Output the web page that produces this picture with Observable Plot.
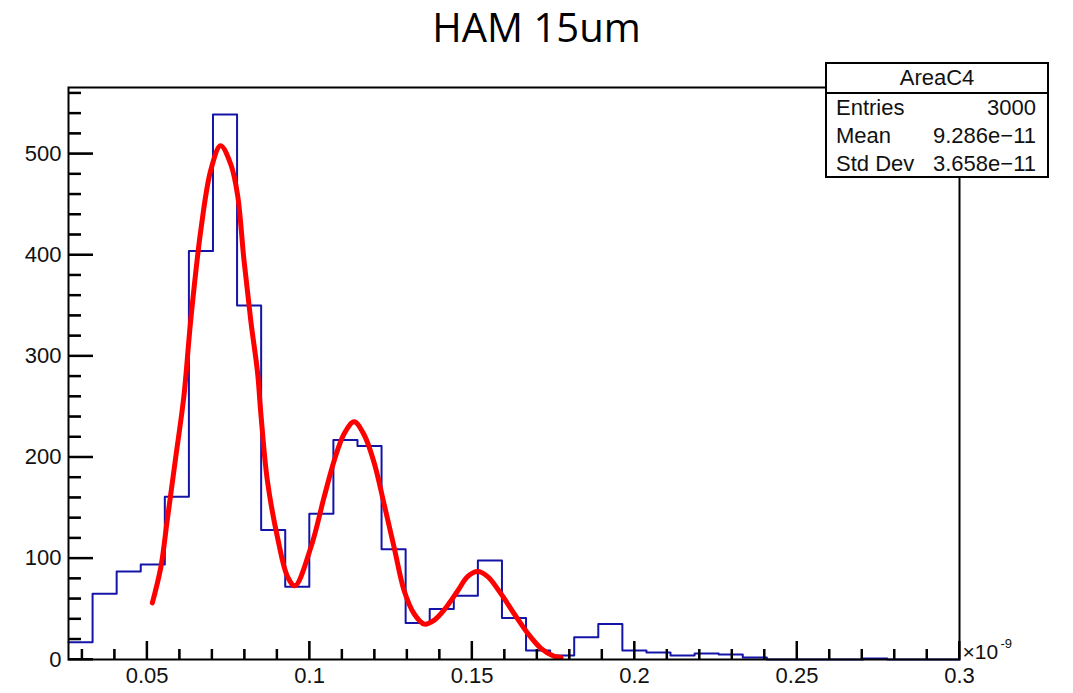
<!DOCTYPE html>
<html>
<head>
<meta charset="utf-8">
<script src="https://cdn.jsdelivr.net/npm/d3@7"></script>
<script src="https://cdn.jsdelivr.net/npm/@observablehq/plot@0.6"></script>
<style>
  html, body { margin: 0; padding: 0; background: white; }
  #wrap { position: relative; width: 1073px; height: 693px; overflow: hidden; }
  #title { height: 60px; line-height: 54px; text-align: center; font-family: "Open Sans", sans-serif; font-size: 40px; color: #000; }
  #chart { position: absolute; left: 0; top: 60px; }
  #ticks { position: absolute; left: 0; top: 60px; pointer-events: none; }
  #stats { position: absolute; left: 825px; top: 62px; width: 224px; height: 116px; box-sizing: border-box;
           border: 2px solid #000; background: #fff; font-family: "Liberation Sans", Arial, sans-serif; font-size: 22px; color: #111; }
  #stats .hdr { height: 28px; line-height: 28px; text-align: center; border-bottom: 2px solid #000; }
  #stats .row { height: 28px; line-height: 28px; display: flex; justify-content: space-between; padding: 0 11px 0 9px; }
</style>
</head>
<body>
<div id="wrap">
  <div id="title"></div>
  <div id="chart"></div>
  <svg id="ticks" width="1073" height="633"></svg>
  <div id="stats"></div>
</div>
<script>
// ---- Data ----
const titleText = "HAM 15um";
const xMin = 0.0258;
const xMax = 0.3;
const binCounts = [17, 65, 87, 94, 161, 404, 539, 350, 128, 72,
                   144, 217, 211, 109, 36, 50, 63, 98, 41, 9,
                   4, 22, 35, 9, 7, 4, 6, 5, 2, 0,
                   0, 0, 0, 1, 0, 0, 0];
const fitX = [0.0516, 0.0542, 0.0562, 0.0588, 0.0613, 0.0634, 0.0665, 0.0696, 0.0726, 0.0757,
              0.0778, 0.0798, 0.0819, 0.0840, 0.0850, 0.0870, 0.0901, 0.0932, 0.0955, 0.1004,
              0.1045, 0.1076, 0.1106, 0.1137, 0.1168, 0.1199, 0.1229, 0.1260, 0.1291, 0.1322,
              0.1353, 0.1384, 0.1414, 0.1456, 0.1486, 0.1517, 0.1548, 0.1589, 0.1630, 0.1671,
              0.1712, 0.1753, 0.1774];
const fitY = [56, 91, 138, 200, 260, 335, 424, 484, 508, 490,
              460, 395, 335, 283, 243, 177, 121, 82, 73, 111,
              161, 197, 223, 235, 222, 194, 154, 111, 68, 45,
              35, 39, 49, 68, 82, 87, 82, 65, 45, 26,
              11, 3, 2];
const yTickValues = [0, 100, 200, 300, 400, 500];
const yTickLabels = ["0", "100", "200", "300", "400", "500"];
const xTickValues = [0.05, 0.1, 0.15, 0.2, 0.25, 0.3];
const xTickLabels = ["0.05", "0.1", "0.15", "0.2", "0.25", "0.3"];
const statsTitle = "AreaC4";
const statsLabels = ["Entries", "Mean", "Std Dev"];
const statsValues = ["3000", "9.286e\u221211", "3.658e\u221211"];
const exponentBase = "\u00d710";
const exponentPower = "-9";

// ---- Build ----
const W = 1073, H = 633, mT = 27, mB = 34, mL = 68, mR = 114;
const innerW = W - mL - mR, innerH = H - mT - mB;

const binWidth = (xMax - xMin) / binCounts.length;
const histPts = binCounts.map((c, i) => ({x: xMin + i * binWidth, y: c}));
histPts.push({x: xMax, y: binCounts[binCounts.length - 1]});
const fitPts = fitX.map((x, i) => ({x, y: fitY[i]}));

const yMinor = d3.range(20, 565, 20).filter(v => v % 100 !== 0);
const xMinor = d3.range(3, 30).map(v => v / 100).filter(v => Math.round(v * 100) % 5 !== 0);
const yMajorCopy = yTickValues.slice();
const xMajorCopy = xTickValues.slice();

const blue = "#1414a8";

const chart = Plot.plot({
  width: W,
  height: H,
  marginTop: mT,
  marginBottom: mB,
  marginLeft: mL,
  marginRight: mR,
  style: {fontFamily: "'Liberation Sans', Arial, sans-serif", background: "white", color: "#111"},
  x: {domain: [xMin, xMax], axis: null},
  y: {domain: [0, 565.6], axis: null},
  marks: [
    Plot.line(histPts, {x: "x", y: "y", curve: "step-after", stroke: blue, strokeWidth: 2}),
    Plot.line(fitPts, {x: "x", y: "y", curve: "catmull-rom", stroke: "#ff0000", strokeWidth: 5}),
    Plot.frame({stroke: "#000", strokeWidth: 2}),
    Plot.tickY(yMajorCopy, {y: d => d, insetRight: innerW - 25, stroke: "#000", strokeWidth: 2}),
    Plot.tickY(yMinor, {y: d => d, insetRight: innerW - 13, stroke: "#000", strokeWidth: 2}),
    Plot.tickX(xMajorCopy, {x: d => d, insetTop: innerH - 18, stroke: "#000", strokeWidth: 2}),
    Plot.tickX(xMinor, {x: d => d, insetTop: innerH - 10, stroke: "#000", strokeWidth: 2}),
    Plot.axisY({ticks: yTickValues, tickSize: 0, tickPadding: 7, fontSize: 22, label: null,
                tickFormat: (d, i) => yTickLabels[i]}),
    Plot.axisX({ticks: xTickValues, tickSize: 0, tickPadding: 8, fontSize: 22, label: null,
                tickFormat: (d, i) => xTickLabels[i]}),
    Plot.text([exponentBase], {x: () => xMax, y: () => 0, text: d => d, dx: 3, dy: -1, textAnchor: "start",
               lineAnchor: "bottom", fontSize: 21, fill: "#111"}),
    Plot.text([exponentPower], {x: () => xMax, y: () => 0, text: d => d, dx: 41, dy: -12, textAnchor: "start",
               lineAnchor: "bottom", fontSize: 13, fill: "#111"})
  ]
});

document.getElementById("title").textContent = titleText;
document.getElementById("chart").appendChild(chart);

// Inward ROOT-style ticks, positioned with Plot's own scales, in an overlay layer
const sx = chart.scale("x"), sy = chart.scale("y");
const g = d3.select("#ticks").append("g").attr("stroke", "#000").attr("stroke-width", 2);
const y0px = sy.apply(0), x0px = sx.apply(xMin);
yMajorCopy.forEach(v => g.append("line").attr("x1", x0px).attr("x2", x0px + 25).attr("y1", sy.apply(v)).attr("y2", sy.apply(v)));
yMinor.forEach(v => g.append("line").attr("x1", x0px).attr("x2", x0px + 13).attr("y1", sy.apply(v)).attr("y2", sy.apply(v)));
xMajorCopy.forEach(v => g.append("line").attr("x1", sx.apply(v)).attr("x2", sx.apply(v)).attr("y1", y0px).attr("y2", y0px - 18));
xMinor.forEach(v => g.append("line").attr("x1", sx.apply(v)).attr("x2", sx.apply(v)).attr("y1", y0px).attr("y2", y0px - 10));

const stats = document.getElementById("stats");
const hdr = document.createElement("div");
hdr.className = "hdr";
hdr.textContent = statsTitle;
stats.appendChild(hdr);
statsLabels.forEach((lab, i) => {
  const r = document.createElement("div");
  r.className = "row";
  const a = document.createElement("span"); a.textContent = lab;
  const b = document.createElement("span"); b.textContent = statsValues[i];
  r.appendChild(a); r.appendChild(b);
  stats.appendChild(r);
});
</script>
</body>
</html>
